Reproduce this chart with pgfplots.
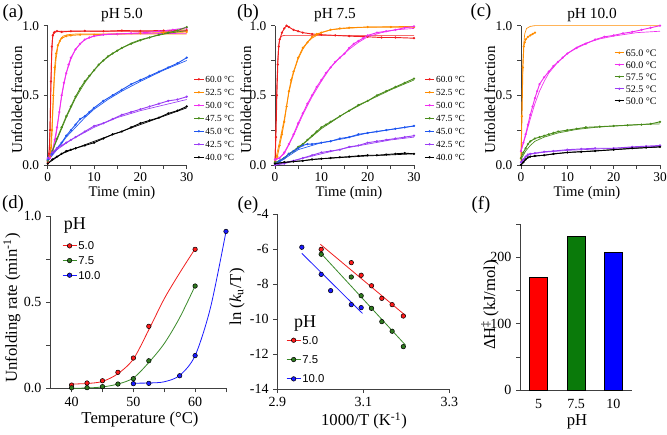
\documentclass[border=0pt]{standalone}
\usepackage{fontspec}
\setmainfont{Liberation Serif}
\newfontfamily\arial{Liberation Sans}
\usepackage{pgfplots}
\pgfplotsset{compat=1.18}

\definecolor{cRed}{HTML}{F01E1E}
\definecolor{cOrange}{HTML}{FF8C00}
\definecolor{cMag}{HTML}{F02EF0}
\definecolor{cGreen}{HTML}{4A8C1C}
\definecolor{cBlue}{HTML}{1E56F0}
\definecolor{cPurple}{HTML}{9B3DF5}
\definecolor{dRed}{HTML}{FF1A1A}
\definecolor{dGreen}{HTML}{2F7A1F}
\definecolor{dBlue}{HTML}{1A1AFF}
\definecolor{lGreen}{HTML}{3A8A2A}
\definecolor{fGreen}{HTML}{0A7A0A}

\pgfplotsset{
  gp/.style={
    scale only axis, clip=false,
    axis x line*=bottom, axis y line*=left,
    axis line style={black!75, line width=0.6pt, -},
    every outer x axis line/.append style={-},
    every outer y axis line/.append style={-},
    tick align=outside,
    tick style={black!75, line width=0.6pt},
    major tick length=3pt, minor tick length=3pt,
  },
  kin/.style={gp, width=104.25pt, height=104.5pt,
    xmin=0, xmax=30, ymin=0, ymax=1,
    xtick={0,10,20,30}, xticklabels={0,10,20,30}, minor xtick={5,15,25},
    ytick={0,0.5,1}, yticklabels={0.0,0.5,1.0}, minor ytick={0.25,0.75},
    tick label style={font=\fontsize{10}{11}\selectfont},
    xticklabel style={yshift=1pt},
    legend cell align=left,
    legend image code/.code={\draw[mark repeat=2,mark phase=2,#1] plot coordinates {(0pt,0pt) (3.5pt,0pt) (7pt,0pt)};},
    legend style={draw=none, fill=none, font=\fontsize{7}{8}\selectfont, anchor=north west,
      row sep=2.75pt, nodes={inner sep=1pt, text height=5pt, text depth=0pt}},
  },
  dat/.style={#1, line width=0.7pt, mark=*, mark size=0.45pt},
  fit/.style={#1, line width=0.5pt, no markers, forget plot},
  big/.style={gp, tick label style={font=\fontsize{10.5}{11}\selectfont},
    legend cell align=left,
    legend image code/.code={\draw[mark repeat=2,mark phase=2,#1] plot coordinates {(0pt,0pt) (5.25pt,0pt) (10.5pt,0pt)};},
    legend style={draw=none, fill=none, font=\arial\fontsize{8.5}{9}\selectfont, anchor=north west,
      nodes={inner sep=1pt, text height=6pt, text depth=0pt}},
  },
  pt/.style={only marks, mark=*, mark size=1.7pt, mark options={fill=#1, draw=black, line width=0.4pt}, forget plot},
}

\begin{document}
\begin{tikzpicture}
\path[use as bounding box] (0,0) rectangle (500.25pt,326.25pt);

% ---------------- (a) pH 5.0
\begin{axis}[kin, at={(35.8pt,202.5pt)}, legend style={at={(1.02,0.67)}}]
\addplot[dat=cRed] coordinates {(0,0.02)(0.3,0.08)(0.5,0.25)(0.7,0.6)(0.9,0.85)(1.1,0.93)(1.4,0.95)(2,0.96)(3,0.955)(5,0.96)(8,0.962)(12,0.96)(16,0.965)(20,0.962)(25,0.965)(30,0.968)};
\addlegendentry{60.0 °C}
\addplot[fit=cRed] coordinates {(0,0)(0.4,0.15)(0.6,0.45)(0.8,0.75)(1.0,0.9)(1.2,0.95)(1.5,0.96)(30,0.96)};
\addplot[dat=cOrange] coordinates {(0,0.03)(0.5,0.06)(0.9,0.25)(1.2,0.5)(1.5,0.7)(1.8,0.8)(2.2,0.86)(2.6,0.89)(3,0.91)(4,0.925)(5,0.93)(7,0.935)(10,0.935)(15,0.94)(20,0.945)(25,0.95)(30,0.955)};
\addlegendentry{52.5 °C}
\addplot[fit=cOrange] coordinates {(0,0.01)(0.8,0.12)(1.1,0.38)(1.4,0.6)(1.8,0.76)(2.2,0.85)(2.7,0.9)(3.3,0.925)(4.2,0.935)(6,0.94)(30,0.94)};
\addplot[dat=cMag] coordinates {(0,0.03)(0.5,0.05)(1,0.1)(1.5,0.18)(2,0.27)(2.5,0.38)(3,0.5)(3.5,0.59)(4,0.66)(4.5,0.72)(5,0.77)(6,0.83)(7,0.87)(8,0.9)(9,0.915)(10,0.925)(12,0.935)(15,0.94)(18,0.945)(21,0.95)(24,0.96)(27,0.97)(30,0.985)};
\addlegendentry{50.0 °C}
\addplot[fit=cMag] coordinates {(0,0.02)(1,0.08)(1.5,0.15)(2,0.26)(2.5,0.38)(3,0.49)(3.5,0.58)(4,0.66)(5,0.76)(6,0.83)(7,0.87)(8,0.9)(10,0.925)(13,0.94)(30,0.945)};
\addplot[dat=cGreen] coordinates {(0,0.03)(1,0.1)(2,0.19)(3,0.27)(4,0.35)(5,0.42)(6,0.49)(7,0.55)(8,0.6)(9,0.64)(10,0.68)(11,0.72)(12,0.75)(13,0.78)(14,0.8)(15,0.82)(16,0.84)(18,0.87)(20,0.895)(22,0.915)(24,0.935)(26,0.95)(28,0.965)(30,0.99)};
\addlegendentry{47.5 °C}
\addplot[fit=cGreen] coordinates {(0,0.02)(2,0.18)(4,0.34)(6,0.48)(8,0.59)(10,0.68)(12,0.75)(14,0.8)(16,0.84)(18,0.875)(20,0.9)(23,0.925)(26,0.945)(30,0.965)};
\addplot[dat=cBlue] coordinates {(0,0.04)(1,0.08)(2,0.12)(3,0.16)(4,0.21)(5,0.25)(6,0.29)(7,0.33)(8,0.35)(9,0.38)(10,0.41)(12,0.46)(14,0.5)(16,0.54)(18,0.58)(20,0.61)(22,0.64)(24,0.67)(26,0.7)(28,0.73)(30,0.77)};
\addlegendentry{45.0 °C}
\addplot[fit=cBlue] coordinates {(0,0.03)(2,0.11)(4,0.2)(6,0.27)(8,0.34)(10,0.4)(13,0.47)(16,0.53)(20,0.6)(25,0.68)(30,0.75)};
\addplot[dat=cPurple] coordinates {(0,0.05)(1,0.09)(2,0.12)(3,0.14)(4,0.16)(5,0.18)(6,0.2)(8,0.24)(10,0.28)(12,0.3)(14,0.33)(16,0.36)(18,0.38)(20,0.4)(22,0.42)(24,0.44)(26,0.46)(28,0.47)(30,0.49)};
\addlegendentry{42.5 °C}
\addplot[fit=cPurple] coordinates {(0,0.04)(2,0.11)(5,0.18)(10,0.27)(15,0.34)(20,0.39)(25,0.43)(30,0.47)};
\addplot[dat=black] coordinates {(0,0.01)(1,0.04)(2,0.06)(3,0.08)(4,0.1)(5,0.11)(6,0.12)(8,0.14)(10,0.16)(12,0.19)(14,0.22)(16,0.24)(18,0.27)(20,0.3)(22,0.32)(24,0.34)(26,0.37)(28,0.39)(30,0.42)};
\addlegendentry{40.0 °C}
\addplot[fit=black] coordinates {(0,0.01)(3,0.08)(6,0.12)(10,0.17)(15,0.23)(20,0.29)(25,0.35)(30,0.41)};
\end{axis}

% ---------------- (b) pH 7.5
\begin{axis}[kin, at={(206.25pt,202.5pt)}, legend style={at={(1.045,0.67)}}]
\addplot[dat=cRed] coordinates {(0,0.02)(0.2,0.2)(0.4,0.5)(0.6,0.72)(0.8,0.85)(1,0.9)(1.5,0.95)(2,0.98)(2.5,1.0)(3,0.99)(4,0.97)(5,0.96)(6,0.95)(8,0.94)(10,0.935)(13,0.93)(16,0.925)(20,0.92)(23,0.915)(26,0.915)(30,0.91)};
\addlegendentry{60.0 °C}
\addplot[fit=cRed] coordinates {(0,0.02)(0.2,0.3)(0.4,0.58)(0.6,0.76)(0.8,0.86)(1,0.9)(1.4,0.925)(2,0.93)(30,0.93)};
\addplot[dat=cOrange] coordinates {(0,0.02)(0.5,0.06)(1,0.14)(1.5,0.22)(2,0.31)(2.5,0.42)(3,0.53)(3.5,0.61)(4,0.67)(5,0.77)(6,0.84)(7,0.88)(8,0.92)(9,0.94)(10,0.95)(12,0.97)(14,0.98)(16,0.985)(20,0.99)(25,0.99)(30,0.99)};
\addlegendentry{52.5 °C}
\addplot[fit=cOrange] coordinates {(0,0.02)(1,0.17)(2,0.33)(3,0.52)(4,0.66)(5,0.76)(6,0.83)(7,0.88)(8,0.91)(10,0.95)(12,0.97)(15,0.98)(20,0.99)(30,0.995)};
\addplot[dat=cMag] coordinates {(0,0.04)(1,0.05)(2,0.09)(3,0.15)(4,0.22)(5,0.3)(6,0.37)(7,0.44)(8,0.5)(9,0.56)(10,0.61)(11,0.66)(12,0.7)(13,0.74)(14,0.77)(15,0.8)(16,0.84)(17,0.87)(18,0.89)(19,0.91)(20,0.93)(22,0.95)(24,0.96)(26,0.97)(28,0.985)(30,0.995)};
\addlegendentry{50.0 °C}
\addplot[fit=cMag] coordinates {(0,0.03)(2,0.08)(4,0.21)(6,0.36)(8,0.49)(10,0.6)(12,0.7)(14,0.77)(16,0.83)(18,0.88)(20,0.92)(23,0.95)(26,0.97)(30,0.98)};
\addplot[dat=cGreen] coordinates {(0,0.02)(1,0.03)(2,0.05)(3,0.08)(4,0.1)(5,0.13)(6,0.15)(7,0.18)(8,0.21)(9,0.24)(10,0.27)(11,0.29)(12,0.31)(14,0.35)(16,0.39)(18,0.43)(20,0.46)(22,0.5)(24,0.53)(26,0.56)(28,0.59)(30,0.62)};
\addlegendentry{47.5 °C}
\addplot[fit=cGreen] coordinates {(0,0.01)(5,0.12)(10,0.26)(15,0.37)(20,0.46)(25,0.54)(30,0.61)};
\addplot[dat=cBlue] coordinates {(0,0.01)(1,0.03)(2,0.05)(3,0.08)(4,0.1)(5,0.12)(6,0.14)(7,0.15)(8,0.15)(10,0.16)(12,0.17)(14,0.19)(16,0.2)(18,0.22)(20,0.23)(22,0.24)(24,0.25)(26,0.26)(28,0.27)(30,0.28)};
\addlegendentry{45.0 °C}
\addplot[fit=cBlue] coordinates {(0,0.0)(5,0.11)(10,0.16)(15,0.19)(20,0.23)(25,0.255)(30,0.28)};
\addplot[dat=cPurple] coordinates {(0,0.0)(2,0.01)(4,0.03)(6,0.05)(8,0.07)(10,0.09)(12,0.1)(14,0.11)(16,0.13)(18,0.14)(20,0.16)(22,0.17)(24,0.18)(26,0.19)(28,0.2)(30,0.21)};
\addlegendentry{42.5 °C}
\addplot[fit=cPurple] coordinates {(0,0.0)(5,0.04)(10,0.08)(15,0.12)(20,0.15)(25,0.18)(30,0.2)};
\addplot[dat=black] coordinates {(0,0.01)(2,0.02)(4,0.025)(6,0.03)(8,0.04)(10,0.045)(12,0.05)(14,0.055)(16,0.06)(18,0.065)(20,0.07)(22,0.07)(24,0.075)(26,0.08)(28,0.085)(30,0.08)};
\addlegendentry{40.0 °C}
\addplot[fit=black] coordinates {(0,0.01)(10,0.045)(20,0.065)(30,0.08)};
\end{axis}

% ---------------- (c) pH 10.0
\begin{axis}[kin, at={(390.75pt,202.5pt)}, legend style={at={(0.64,0.86)}, font=\fontsize{7.5}{8}\selectfont, row sep=2pt}]
\addplot[dat=cOrange] coordinates {(0,0.05)(0.2,0.35)(0.4,0.7)(0.6,0.85)(0.8,0.88)(1,0.9)(1.5,0.92)(2,0.93)(2.5,0.94)(3,0.95)};
\addlegendentry{65.0 °C}
\addplot[fit=cOrange] coordinates {(0,0.03)(0.2,0.4)(0.4,0.72)(0.6,0.87)(0.8,0.94)(1.2,0.98)(2,0.995)(3,1.0)(30,1.0)};
\addplot[dat=cMag] coordinates {(0,0.1)(0.5,0.16)(1,0.22)(1.5,0.29)(2,0.36)(2.5,0.42)(3,0.48)(3.5,0.53)(4,0.58)(5,0.63)(6,0.67)(7,0.71)(8,0.74)(9,0.77)(10,0.8)(12,0.84)(14,0.87)(16,0.9)(18,0.92)(20,0.93)(22,0.945)(24,0.955)(26,0.97)(28,0.985)(30,1.0)};
\addlegendentry{60.0 °C}
\addplot[fit=cMag] coordinates {(0,0.1)(1,0.21)(2,0.33)(3,0.44)(4,0.53)(5,0.6)(6,0.66)(8,0.74)(10,0.8)(12,0.845)(14,0.875)(17,0.905)(20,0.925)(25,0.95)(30,0.96)};
\addplot[dat=cGreen] coordinates {(0,0.05)(0.5,0.09)(1,0.12)(1.5,0.15)(2,0.17)(3,0.19)(4,0.2)(5,0.21)(6,0.22)(7,0.23)(8,0.24)(10,0.25)(12,0.26)(14,0.27)(17,0.275)(20,0.28)(23,0.285)(26,0.29)(28,0.295)(30,0.31)};
\addlegendentry{57.5 °C}
\addplot[fit=cGreen] coordinates {(0,0.04)(1,0.1)(2,0.14)(3,0.17)(5,0.2)(8,0.23)(12,0.255)(16,0.27)(20,0.28)(25,0.29)(30,0.295)};
\addplot[dat=cPurple] coordinates {(0,0.02)(0.5,0.04)(1,0.06)(1.5,0.075)(2,0.08)(3,0.085)(5,0.095)(7,0.1)(10,0.11)(13,0.115)(16,0.12)(20,0.12)(24,0.13)(27,0.135)(30,0.14)};
\addlegendentry{52.5 °C}
\addplot[fit=cPurple] coordinates {(0,0.01)(1,0.06)(2,0.078)(5,0.092)(10,0.105)(20,0.12)(30,0.135)};
\addplot[dat=black] coordinates {(0,0.0)(0.5,0.02)(1,0.04)(1.5,0.055)(2,0.06)(3,0.065)(5,0.07)(7,0.08)(10,0.09)(13,0.095)(16,0.1)(20,0.11)(24,0.12)(27,0.125)(30,0.13)};
\addlegendentry{50.0 °C}
\addplot[fit=black] coordinates {(0,0.0)(1,0.04)(2,0.06)(5,0.07)(10,0.09)(20,0.11)(30,0.13)};
\end{axis}

% ---------------- (d) rate vs temperature
\begin{axis}[big, at={(37.5pt,35pt)}, width=132pt, height=129.2pt,
  xmin=36.5, xmax=65, ymin=0, ymax=1,
  xtick={40,50,60}, xticklabels={40,50,60}, minor xtick={45,55,65},
  ytick={0,0.5,1}, yticklabels={0.0,0.5,1.0}, minor ytick={0.25,0.75},
  legend style={at={(0.045,0.875)}, row sep=3pt}]
\addlegendimage{cRed, line width=0.6pt, mark=*, mark size=1.7pt, mark options={fill=dRed, draw=black, line width=0.4pt}}
\addlegendentry{5.0}
\addlegendimage{lGreen, line width=0.6pt, mark=*, mark size=1.7pt, mark options={fill=dGreen, draw=black, line width=0.4pt}}
\addlegendentry{7.5}
\addlegendimage{dBlue, line width=0.6pt, mark=*, mark size=1.7pt, mark options={fill=dBlue, draw=black, line width=0.4pt}}
\addlegendentry{10.0}
\addplot[cRed, line width=0.6pt, smooth, forget plot] coordinates {(40,0.025)(42.5,0.028)(45,0.04)(47.5,0.085)(50,0.17)(52.5,0.34)(55,0.52)(57.5,0.67)(60,0.81)};
\addplot[lGreen, line width=0.6pt, smooth, forget plot] coordinates {(40,0.0)(42.5,0.002)(45,0.008)(47.5,0.025)(50,0.06)(52.5,0.15)(55,0.26)(57.5,0.41)(60,0.595)};
\addplot[dBlue, line width=0.6pt, smooth, forget plot] coordinates {(50,0.03)(52.5,0.031)(55,0.038)(57.5,0.075)(60,0.19)(62.5,0.47)(65,0.91)};
\addplot[pt=dRed] coordinates {(40,0.019)(42.5,0.031)(45,0.044)(47.5,0.093)(50,0.176)(52.5,0.36)(60,0.807)};
\addplot[pt=dGreen] coordinates {(40,0.003)(42.5,0.004)(45,0.01)(47.5,0.025)(50,0.056)(52.5,0.16)(60,0.594)};
\addplot[pt=dBlue] coordinates {(50,0.027)(52.5,0.029)(57.5,0.073)(60,0.19)(65,0.911)};
\node[font=\fontsize{13.5}{14}\selectfont] at (rel axis cs:0.142,0.948) {pH};
\end{axis}

% ---------------- (e) Eyring plot
\begin{axis}[big, at={(208pt,34.5pt)}, width=129pt, height=131.25pt,
  xmin=2.9, xmax=3.3, ymin=-14, ymax=-4,
  xtick={2.9,3.1,3.3}, xticklabels={2.9,3.1,3.3},
  ytick={-14,-12,-10,-8,-6,-4}, yticklabels={-14,-12,-10,-8,-6,-4},
  legend style={at={(0.027,0.326)}, row sep=6.5pt}]
\addlegendimage{cRed, line width=0.6pt, mark=*, mark size=1.7pt, mark options={fill=dRed, draw=black, line width=0.4pt}}
\addlegendentry{5.0}
\addlegendimage{lGreen, line width=0.6pt, mark=*, mark size=1.7pt, mark options={fill=dGreen, draw=black, line width=0.4pt}}
\addlegendentry{7.5}
\addlegendimage{dBlue, line width=0.6pt, mark=*, mark size=1.7pt, mark options={fill=dBlue, draw=black, line width=0.4pt}}
\addlegendentry{10.0}
\addplot[cRed, line width=0.6pt, forget plot] coordinates {(3.0,-5.73)(3.198,-9.8)};
\addplot[lGreen, line width=0.6pt, forget plot] coordinates {(3.0,-6.21)(3.198,-11.49)};
\addplot[dBlue, line width=0.6pt, forget plot] coordinates {(2.957,-6.25)(3.098,-9.68)};
\addplot[pt=dRed] coordinates {(3.002,-6.02)(3.072,-6.78)(3.095,-7.5)(3.119,-8.1)(3.143,-8.82)(3.167,-9.18)(3.193,-9.83)};
\addplot[pt=dGreen] coordinates {(3.002,-6.3)(3.072,-7.6)(3.095,-8.67)(3.119,-9.39)(3.143,-10.15)(3.167,-10.7)(3.193,-11.58)};
\addplot[pt=dBlue] coordinates {(2.957,-5.9)(3.002,-7.45)(3.024,-8.38)(3.072,-9.18)(3.095,-9.35)};
\node[font=\fontsize{13.5}{14}\selectfont] at (rel axis cs:0.161,0.377) {pH};
\end{axis}

% ---------------- (f) activation enthalpy
\begin{axis}[big, at={(390pt,33.5pt)}, width=84pt, height=124.7pt,
  xmin=0.5, xmax=3.5, ymin=0, ymax=250,
  xtick={1,2,3}, xticklabels={5,7.5,10}, major x tick style={draw=none},
  ytick={0,100,200}, yticklabels={0,100,200}, minor ytick={50,150,250},
  ybar, bar width=13.5pt, bar shift=0pt]
\addplot[fill=red, draw=black, line width=0.6pt] coordinates {(1,170)};
\addplot[fill=fGreen, draw=black, line width=0.6pt] coordinates {(2,232)};
\addplot[fill=blue, draw=black, line width=0.6pt] coordinates {(3,207)};
\end{axis}

% ---------------- text in pixel coordinates
\begin{scope}[yshift=326.25pt, x=0.75pt, y=-0.75pt]
\node[font=\fontsize{14}{15}\selectfont] at (13,13) {(a)};
\node[font=\fontsize{14}{15}\selectfont] at (248,13) {(b)};
\node[font=\fontsize{14}{15}\selectfont] at (481,12) {(c)};
\node[font=\fontsize{14}{15}\selectfont] at (13,204) {(d)};
\node[font=\fontsize{14}{15}\selectfont] at (248,205) {(e)};
\node[font=\fontsize{14}{15}\selectfont] at (481,205) {(f)};
\node[font=\fontsize{11.5}{12}\selectfont] at (122,15) {pH 5.0};
\node[font=\fontsize{11.5}{12}\selectfont] at (335,15) {pH 7.5};
\node[font=\fontsize{11.5}{12}\selectfont] at (592,15) {pH 10.0};
\node[font=\fontsize{11.3}{12}\selectfont, rotate=90] at (17,100) {Unfolded fraction};
\node[font=\fontsize{11.3}{12}\selectfont, rotate=90] at (246,100) {Unfolded fraction};
\node[font=\fontsize{11.3}{12}\selectfont, rotate=90] at (490,100) {Unfolded fraction};
\node[font=\fontsize{11}{12}\selectfont, inner sep=0pt] at (122,193) {Time (min)};
\node[font=\fontsize{11}{12}\selectfont, inner sep=0pt] at (349,193) {Time (min)};
\node[font=\fontsize{11}{12}\selectfont, inner sep=0pt] at (587,193) {Time (min)};
\node[font=\fontsize{12.5}{13}\selectfont, rotate=90] at (12,308) {Unfolding rate (min\textsuperscript{-1})};
\node[font=\fontsize{12.5}{13}\selectfont] at (140,419) {Temperature (°C)};
\node[font=\fontsize{12.5}{13}\selectfont, rotate=90] at (237,297) {ln (\textit{k}\textsubscript{u}/T)};
\node[font=\fontsize{12.5}{13}\selectfont] at (364,421) {1000/T (K\textsuperscript{-1})};
\node[font=\fontsize{12.5}{13}\selectfont, rotate=90] at (490,305) {ΔH\textsuperscript{‡} (kJ/mol)};
\node[font=\fontsize{12.5}{13}\selectfont] at (577,422) {pH};
\end{scope}
\end{tikzpicture}
\end{document}
